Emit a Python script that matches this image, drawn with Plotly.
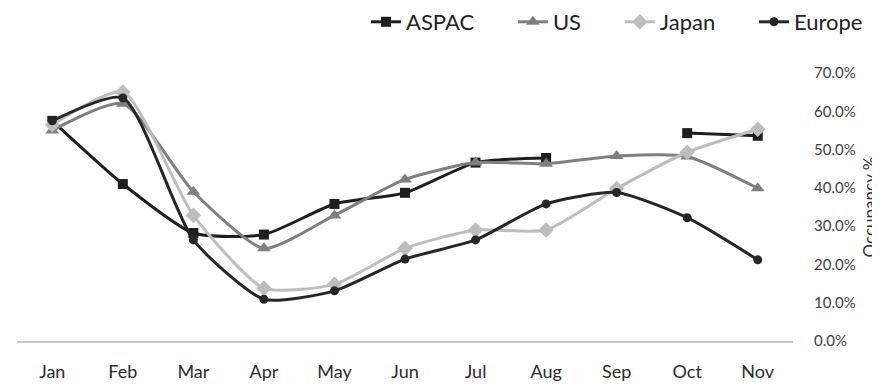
import plotly.graph_objects as go

months = ["Jan", "Feb", "Mar", "Apr", "May", "Jun", "Jul", "Aug", "Sep", "Oct", "Nov"]
aspac = [57.5, 41.0, 28.2, 27.8, 35.8, 38.7, 46.6, 47.8, None, 54.3, 53.6]
us = [55.0, 62.0, 39.0, 24.2, 32.8, 42.2, 46.6, 46.3, 48.3, 48.2, 39.9]
japan = [56.5, 65.0, 32.8, 13.8, 14.8, 24.2, 29.0, 29.0, 39.8, 49.3, 55.3]
europe = [57.5, 63.5, 26.4, 10.9, 13.1, 21.4, 26.4, 35.8, 38.8, 32.2, 21.2]
y_ticks = [0, 10, 20, 30, 40, 50, 60, 70]
y_labels = ["0.0%", "10.0%", "20.0%", "30.0%", "40.0%", "50.0%", "60.0%", "70.0%"]

series = [
    ("ASPAC", aspac, "#1e1e1e", "square", 10),
    ("US", us, "#7f7f7f", "triangle-up", 12),
    ("Japan", japan, "#bdbdbd", "diamond", 12),
    ("Europe", europe, "#262626", "circle", 9),
]

pad = "\u00a0" * 6
fig = go.Figure()
for i, (name, vals, color, sym, size) in enumerate(series):
    label = name + (pad if i < len(series) - 1 else "")
    fig.add_trace(go.Scatter(
        x=months, y=vals, name=label, mode="lines+markers",
        line=dict(color=color, width=3, shape="spline", smoothing=0.6),
        marker=dict(symbol=sym, size=size, color=color),
        connectgaps=False,
    ))

FONT = "Lato, Carlito, Arial, sans-serif"
fig.update_layout(
    width=872, height=376,
    margin=dict(l=9, r=87, t=65, b=43, autoexpand=False),
    paper_bgcolor="white", plot_bgcolor="white",
    font=dict(family=FONT, color="#333333"),
    showlegend=True,
    legend=dict(orientation="h", x=(358 - 9) / 776, xanchor="left",
                y=1 + (65 - 14) / 268, yanchor="middle",
                font=dict(size=22, color="#222222"),
                bgcolor="rgba(0,0,0,0)", itemclick=False),
    xaxis=dict(range=[-0.5, 10.5], showgrid=False, zeroline=False, automargin=False,
               showline=True, linecolor="#c8c8c8", linewidth=2,
               ticks="", tickfont=dict(size=18, color="#2b2b2b"),
               ticklabelstandoff=13),
    yaxis=dict(range=[0, 70], side="right", showgrid=False, zeroline=False, automargin=False,
               showline=False, tickvals=y_ticks, ticktext=y_labels,
               tickfont=dict(size=15, color="#404040"), ticklabelstandoff=20,
               title=dict(text="Occupancy %", font=dict(size=17, color="#333333"), standoff=12)),
)
fig.write_html("out.html")
